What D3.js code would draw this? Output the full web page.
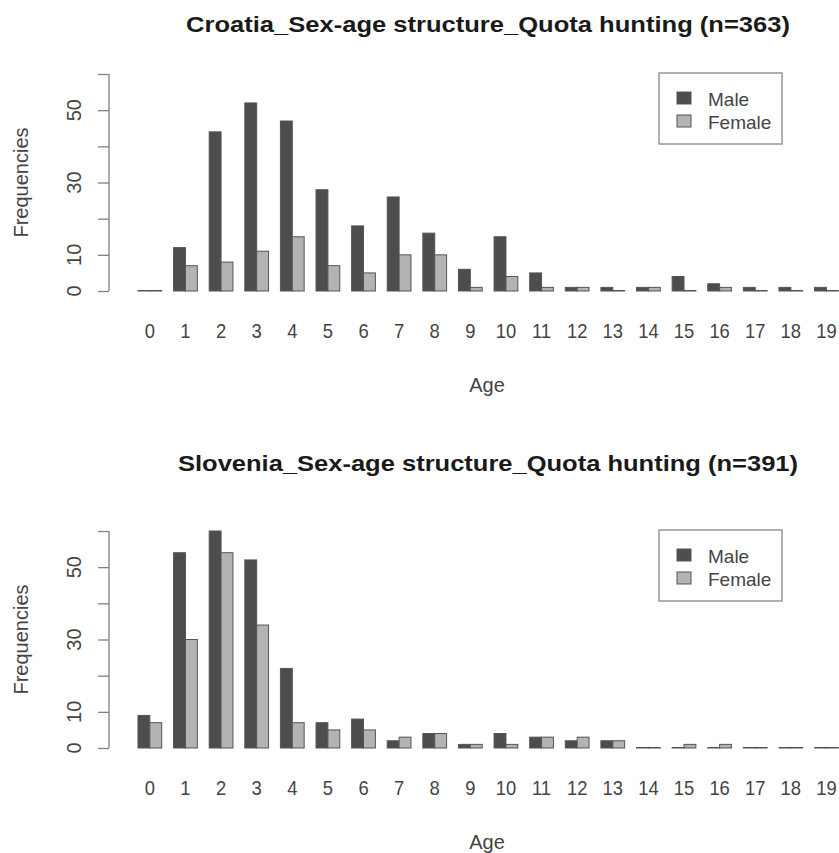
<!DOCTYPE html>
<html>
<head>
<meta charset="utf-8">
<script src="https://cdn.jsdelivr.net/npm/d3@7"></script>
<style>
  body { margin: 0; background: #fff; }
  text { font-family: "Liberation Sans", Arial, sans-serif; }
</style>
</head>
<body>
<svg id="chart"></svg>
<script>
// ages on the x axis
var ages = d3.range(0, 20);
var sexes = ["Male", "Female"];
var yTicks = [0, 10, 20, 30, 40, 50, 60];
var yLabels = [0, 10, 30, 50];

// Croatia (n=363)
var croMale   = [0, 12, 44, 52, 47, 28, 18, 26, 16, 6, 15, 5, 1, 1, 1, 4, 2, 1, 1, 1];
var croFemale = [0, 7, 8, 11, 15, 7, 5, 10, 10, 1, 4, 1, 1, 0, 1, 0, 1, 0, 0, 0];
// Slovenia (n=391)
var sloMale   = [9, 54, 60, 52, 22, 7, 8, 2, 4, 1, 4, 3, 2, 2, 0, 0, 0, 0, 0, 0];
var sloFemale = [7, 30, 54, 34, 7, 5, 5, 3, 4, 1, 1, 3, 3, 2, 0, 1, 1, 0, 0, 0];

var svgWidth = 839, svgHeight = 853;
var colorArr = ["#4d4d4d", "#b3b3b3"];

var svg = d3.select("#chart")
  .attr("width", svgWidth)
  .attr("height", svgHeight);

function drawPanel(title, titleY, titleLen, male, female, top) {
  // top = y of the 60 tick; 0 sits 217 px below
  var g = svg.append("g");
  var y = d3.scaleLinear().domain([0, 60]).range([top + 217, top]);
  var x = d3.scaleBand().domain(ages)
    .range([126.1, 850.2])
    .paddingInner(1 / 3)
    .paddingOuter(1 / 3);
  var xs = d3.scaleBand().domain(sexes).range([0, x.bandwidth()]);

  g.append("text")
    .attr("x", 488).attr("y", titleY)
    .attr("text-anchor", "middle")
    .attr("dominant-baseline", "central")
    .attr("font-size", 22).attr("font-weight", "bold")
    .attr("fill", "#1a1a1a")
    .attr("textLength", titleLen)
    .attr("lengthAdjust", "spacingAndGlyphs")
    .text(title);

  // y axis
  var yAxis = d3.axisLeft(y).tickValues(yTicks).tickSize(11).tickFormat("");
  var ya = g.append("g").attr("transform", "translate(109,0)").call(yAxis);
  ya.selectAll("path,line").attr("stroke", "#808080").attr("stroke-width", 1.3);
  ya.select(".domain").attr("d", "M0," + y(0) + "V" + y(60));

  g.selectAll(".ylab").data(yLabels).enter().append("text")
    .attr("transform", function(d) { return "translate(74," + y(d) + ") rotate(-90)"; })
    .attr("text-anchor", "middle")
    .attr("dominant-baseline", "central")
    .attr("font-size", 20).attr("fill", "#444")
    .text(function(d) { return d; });

  g.append("text")
    .attr("transform", "translate(21," + (y(30)) + ") rotate(-90)")
    .attr("text-anchor", "middle")
    .attr("dominant-baseline", "central")
    .attr("font-size", 20).attr("fill", "#444")
    .text("Frequencies");

  // bars (zero counts still show as a flat outline, as in R)
  var rows = ages.map(function(a, i) {
    return [{age: a, sex: "Male", v: male[i]}, {age: a, sex: "Female", v: female[i]}];
  });
  g.selectAll(".grp").data(rows).enter().append("g")
    .attr("transform", function(d) { return "translate(" + x(d[0].age) + ",0)"; })
    .selectAll("rect").data(function(d) { return d; }).enter().append("rect")
    .attr("x", function(d) { return xs(d.sex); })
    .attr("width", xs.bandwidth())
    .attr("y", function(d) { return Math.min(y(d.v), y(0) - 0.5); })
    .attr("height", function(d) { return Math.max(y(0) - y(d.v), 0.5); })
    .attr("fill", function(d, i) { return colorArr[i]; })
    .attr("stroke", "#555")
    .attr("stroke-width", 1);

  // x labels
  g.selectAll(".xlab").data(ages).enter().append("text")
    .attr("x", function(d) { return x(d) + x.bandwidth() / 2; })
    .attr("y", y(0) + 40)
    .attr("text-anchor", "middle")
    .attr("dominant-baseline", "central")
    .attr("font-size", 20).attr("fill", "#444")
    .attr("transform", function(d) {
      var cx = x(d) + x.bandwidth() / 2;
      return "translate(" + cx + ",0) scale(0.92,1) translate(" + (-cx) + ",0)";
    })
    .text(function(d) { return d; });

  g.append("text")
    .attr("x", 487).attr("y", y(0) + 94)
    .attr("text-anchor", "middle")
    .attr("dominant-baseline", "central")
    .attr("font-size", 20).attr("fill", "#444")
    .text("Age");

  // legend
  var lg = g.append("g").attr("transform", "translate(659," + (top - 1) + ")");
  lg.append("rect").attr("width", 123).attr("height", 71)
    .attr("fill", "#fff").attr("stroke", "#888").attr("stroke-width", 1.3);
  sexes.forEach(function(s, i) {
    lg.append("rect").attr("x", 18).attr("y", 19 + i * 23).attr("width", 14).attr("height", 12)
      .attr("fill", colorArr[i]).attr("stroke", "#555");
    lg.append("text").attr("x", 49).attr("y", 26 + i * 23)
      .attr("dominant-baseline", "central")
      .attr("font-size", 19).attr("fill", "#444")
      .text(s);
  });
}

drawPanel("Croatia_Sex-age structure_Quota hunting (n=363)", 24, 604, croMale, croFemale, 74);
drawPanel("Slovenia_Sex-age structure_Quota hunting (n=391)", 463, 620, sloMale, sloFemale, 531);
</script>
</body>
</html>
